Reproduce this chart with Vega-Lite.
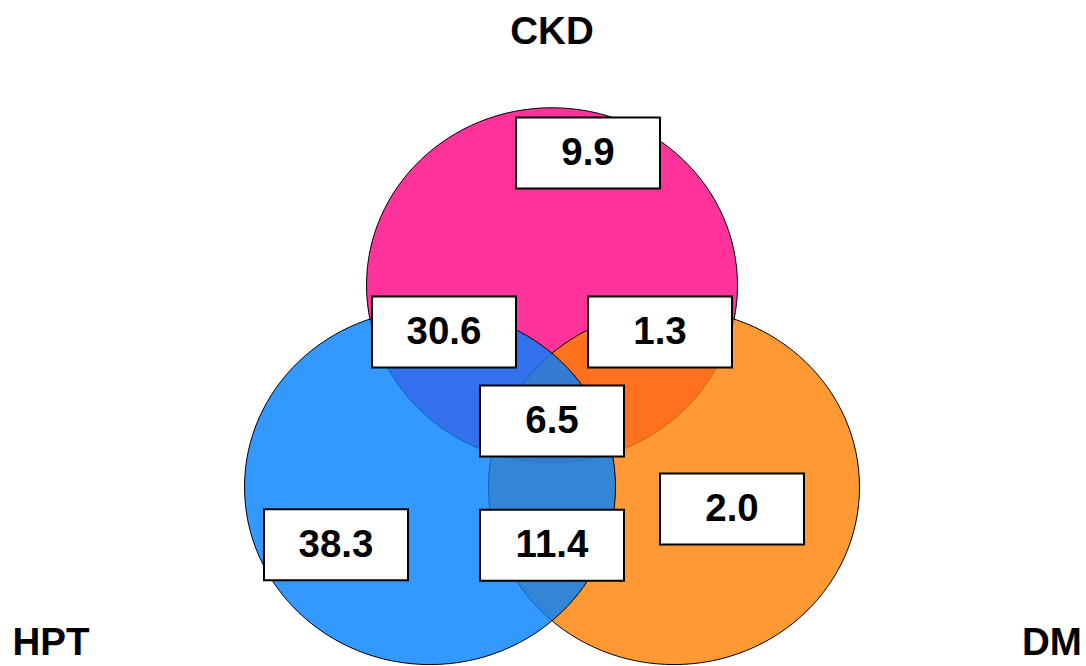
{
  "$schema": "https://vega.github.io/schema/vega-lite/v6.json",
  "width": 1086,
  "height": 666,
  "autosize": {"type": "fit", "contains": "padding"},
  "padding": 0,
  "background": "white",
  "config": {"view": {"stroke": null}},
  "datasets": {
    "sets": [
      {"set": "CKD", "cx": 552, "cy": 287},
      {"set": "DM", "cx": 674, "cy": 490},
      {"set": "HPT", "cx": 430, "cy": 490}
    ],
    "regions": [
      {"label": "9.9", "x": 588, "y": 154},
      {"label": "30.6", "x": 444, "y": 334},
      {"label": "1.3", "x": 660, "y": 334},
      {"label": "6.5", "x": 552, "y": 423.5},
      {"label": "38.3", "x": 336, "y": 548},
      {"label": "11.4", "x": 552, "y": 548.5},
      {"label": "2.0", "x": 732, "y": 512}
    ],
    "names": [
      {"name": "CKD", "x": 552, "y": 32.5},
      {"name": "HPT", "x": 51, "y": 647},
      {"name": "DM", "x": 1052, "y": 647}
    ]
  },
  "layer": [
    {
      "data": {"name": "sets"},
      "mark": {
        "type": "point",
        "filled": true,
        "opacity": 1,
        "shape": "M-1,0A1,0.957,0,1,0,1,0A1,0.957,0,1,0,-1,0Z",
        "size": 137641,
        "stroke": "black",
        "strokeWidth": 1,
        "strokeOpacity": 1
      },
      "encoding": {
        "x": {"field": "cx", "type": "quantitative", "scale": {"domain": [0, 1086]}, "axis": null},
        "y": {"field": "cy", "type": "quantitative", "scale": {"domain": [666, 0]}, "axis": null},
        "fill": {"field": "set", "type": "nominal", "scale": {"domain": ["CKD", "DM", "HPT"], "range": ["#ff3399", "#ff8000", "#0080ff"]}, "legend": null},
        "fillOpacity": {"field": "set", "type": "nominal", "scale": {"type": "ordinal", "domain": ["CKD", "DM", "HPT"], "range": [1, 0.8, 0.8]}, "legend": null}
      }
    },
    {
      "data": {"name": "regions"},
      "mark": {
        "type": "point",
        "filled": true,
        "shape": "M-1,-0.493H1V0.493H-1Z",
        "size": 20736,
        "fill": "white",
        "fillOpacity": 1,
        "opacity": 1,
        "stroke": "black",
        "strokeWidth": 2
      },
      "encoding": {
        "x": {"field": "x", "type": "quantitative", "scale": {"domain": [0, 1086]}, "axis": null},
        "y": {"field": "y", "type": "quantitative", "scale": {"domain": [666, 0]}, "axis": null}
      }
    },
    {
      "data": {"name": "regions"},
      "mark": {
        "type": "text",
        "font": "Liberation Sans",
        "fontWeight": "bold",
        "fontSize": 38.5,
        "align": "center",
        "baseline": "middle",
        "color": "black"
      },
      "encoding": {
        "x": {"field": "x", "type": "quantitative", "scale": {"domain": [0, 1086]}, "axis": null},
        "y": {"field": "y", "type": "quantitative", "scale": {"domain": [666, 0]}, "axis": null},
        "text": {"field": "label", "type": "nominal"}
      }
    },
    {
      "data": {"name": "names"},
      "mark": {
        "type": "text",
        "font": "Liberation Sans",
        "fontWeight": "bold",
        "fontSize": 38.5,
        "align": "center",
        "baseline": "middle",
        "color": "black"
      },
      "encoding": {
        "x": {"field": "x", "type": "quantitative", "scale": {"domain": [0, 1086]}, "axis": null},
        "y": {"field": "y", "type": "quantitative", "scale": {"domain": [666, 0]}, "axis": null},
        "text": {"field": "name", "type": "nominal"}
      }
    }
  ]
}
